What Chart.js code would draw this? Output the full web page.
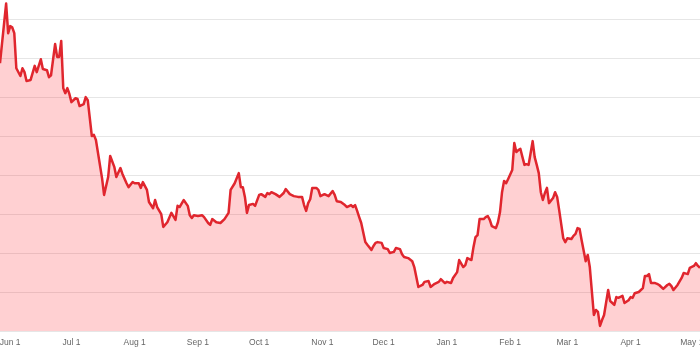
<!DOCTYPE html>
<html>
<head>
<meta charset="utf-8">
<script src="https://cdn.jsdelivr.net/npm/chart.js@4.4.1/dist/chart.umd.min.js"></script>
<style>
  html, body { margin: 0; padding: 0; background: #fff; overflow: hidden; }
  #wrap { position: relative; width: 700px; height: 349px; }
</style>
</head>
<body>
<div id="wrap"><canvas id="chart"></canvas></div>
<script>
// days counted from Jun 1 (negative = late May)
const days = [
  -5, -2, -1, 0, 1, 2, 3, 5, 6, 7, 8, 10, 12, 13, 15, 16, 18, 19, 20, 22,
  23, 24, 25, 26, 27, 28, 29, 30, 32, 33, 34, 36, 37, 38, 40, 41, 42, 45, 46, 48,
  49, 51, 52, 54, 55, 57, 58, 60, 61, 63, 64, 65, 67, 68, 70, 71, 72, 74, 75, 77,
  79, 81, 82, 83, 85, 87, 88, 89, 90, 92, 94, 95, 97, 98, 99, 101, 103, 105, 107, 108,
  110, 112, 113, 114, 115, 116, 117, 119, 120, 122, 123, 125, 126, 127, 128, 130, 132, 134, 135, 137,
  139, 141, 143, 144, 145, 146, 147, 148, 150, 151, 152, 154, 156, 158, 159, 160, 162, 164, 165, 167,
  168, 169, 170, 171, 172, 174, 175, 177, 178, 179, 180, 182, 183, 185, 186, 188, 189, 191, 192, 193,
  195, 197, 198, 200, 202, 203, 205, 206, 208, 210, 211, 213, 214, 216, 217, 219, 220, 222, 223, 224,
  226, 227, 228, 229, 230, 232, 233, 234, 235, 236, 238, 239, 240, 241, 242, 243, 244, 246, 247, 248,
  249, 250, 251, 252, 253, 254, 255, 256, 257, 258, 259, 260, 261, 262, 263, 264, 266, 267, 268, 269,
  270, 271, 272, 273, 275, 276, 277, 278, 279, 280, 282, 283, 284, 286, 287, 288, 289, 290, 291, 293,
  294, 296, 297, 298, 300, 301, 303, 304, 305, 306, 308, 310, 311, 312, 313, 314, 316, 317, 318, 320,
  322, 323, 324, 325, 327, 329, 330, 332, 333, 335, 336, 337, 338
];
const prices = [
  68.7, 84.0, 76.4, 78.2, 77.9, 76.4, 67.4, 65.4, 67.4, 66.4, 64.1, 64.4, 68.0, 66.4, 69.7, 67.2, 66.9, 65.1, 65.6, 73.6,
  70.3, 70.3, 74.4, 62.3, 61.0, 62.3, 60.8, 58.7, 59.7, 59.5, 57.7, 58.2, 60.0, 59.2, 50.0, 50.3, 49.0, 39.2, 34.9, 39.5,
  44.9, 42.1, 39.5, 41.8, 40.3, 37.9, 36.9, 38.2, 37.9, 37.9, 36.7, 38.2, 36.2, 33.1, 31.5, 33.6, 31.8, 30.0, 26.7, 27.9,
  30.3, 28.5, 32.1, 31.8, 33.6, 32.1, 29.7, 29.0, 29.7, 29.5, 29.7, 29.2, 27.7, 27.2, 28.7, 27.9, 27.7, 28.7, 30.3, 36.2,
  37.9, 40.5, 36.9, 36.9, 34.4, 30.3, 32.3, 32.6, 32.1, 34.9, 35.1, 34.4, 35.4, 35.1, 35.6, 35.1, 34.4, 35.4, 36.4, 35.1,
  34.6, 34.4, 34.4, 32.3, 30.8, 32.8, 33.8, 36.7, 36.7, 36.2, 34.6, 35.1, 34.6, 35.9, 34.9, 33.3, 33.1, 32.3, 31.8, 32.3,
  31.8, 32.3, 30.8, 29.2, 27.7, 22.8, 22.1, 20.8, 21.8, 22.6, 22.8, 22.6, 21.3, 21.0, 20.0, 20.3, 21.3, 21.0, 19.7, 19.0,
  18.7, 17.9, 16.4, 11.3, 11.8, 12.6, 12.8, 11.3, 12.1, 12.6, 13.3, 12.3, 12.6, 12.3, 13.6, 15.1, 18.2, 16.4, 16.9, 18.7,
  18.2, 21.5, 24.1, 24.6, 28.7, 28.7, 29.2, 29.5, 28.5, 26.9, 26.4, 27.9, 30.5, 35.6, 38.5, 37.9, 39.0, 41.3, 48.2, 45.9,
  46.4, 46.7, 44.6, 42.6, 42.8, 42.6, 45.6, 48.7, 44.6, 42.6, 40.5, 35.6, 33.6, 35.4, 36.7, 32.8, 34.1, 35.6, 34.4, 31.0,
  27.4, 23.8, 22.8, 23.8, 23.6, 24.4, 24.9, 26.4, 26.2, 23.3, 17.9, 19.5, 16.4, 4.1, 5.4, 4.9, 1.3, 2.8, 4.1, 10.5,
  7.7, 6.7, 8.7, 8.5, 9.0, 7.2, 7.9, 8.7, 8.5, 9.7, 10.0, 11.0, 14.1, 14.1, 14.6, 12.3, 12.3, 12.1, 11.8, 10.8,
  11.8, 12.1, 11.5, 10.5, 11.8, 13.6, 14.9, 14.6, 16.2, 16.7, 17.4, 16.7, 16.2
];
const monthStarts = [0, 30, 61, 92, 122, 153, 183, 214, 245, 273, 304, 334];
const monthLabels = ['Jun 1', 'Jul 1', 'Aug 1', 'Sep 1', 'Oct 1', 'Nov 1',
                     'Dec 1', 'Jan 1', 'Feb 1', 'Mar 1', 'Apr 1', 'May 1'];

const points = days.map((d, i) => ({ x: d, y: prices[i] }));

new Chart(document.getElementById('chart'), {
  type: 'line',
  data: {
    datasets: [{
      data: points,
      borderColor: '#e0262e',
      backgroundColor: 'rgba(255, 40, 50, 0.22)',
      borderWidth: 2.5,
      fill: 'start',
      tension: 0,
      pointRadius: 0,
      borderJoinStyle: 'round',
    }],
  },
  options: {
    responsive: true,
    maintainAspectRatio: false,
    animation: false,
    layout: { padding: 0 },
    plugins: { legend: { display: false }, tooltip: { enabled: false } },
    scales: {
      x: {
        type: 'linear',
        min: -5,
        max: 338,
        grid: { display: false, drawTicks: false },
        border: { display: false },
        afterBuildTicks: scale => { scale.ticks = monthStarts.map(v => ({ value: v })); },
        afterFit: scale => { scale.paddingLeft = 0; scale.paddingRight = 0; scale.height = 18; },
        ticks: {
          autoSkip: false,
          maxRotation: 0,
          padding: 7,
          color: '#666',
          font: { family: '"Liberation Sans", Arial, sans-serif', size: 8.5 },
          callback: (v) => monthLabels[monthStarts.indexOf(v)] ?? '',
        },
      },
      y: {
        min: 0,
        max: 84.9,
        grid: {
          color: ctx => (ctx.tick && ctx.tick.value % 10 === 0 ? '#e6e6e6' : 'rgba(0,0,0,0)'),
          lineWidth: 1,
          drawTicks: false,
        },
        border: { display: false },
        afterFit: scale => { scale.width = 0; },
        ticks: { display: false, stepSize: 10 },
      },
    },
  },
});
</script>
</body>
</html>
